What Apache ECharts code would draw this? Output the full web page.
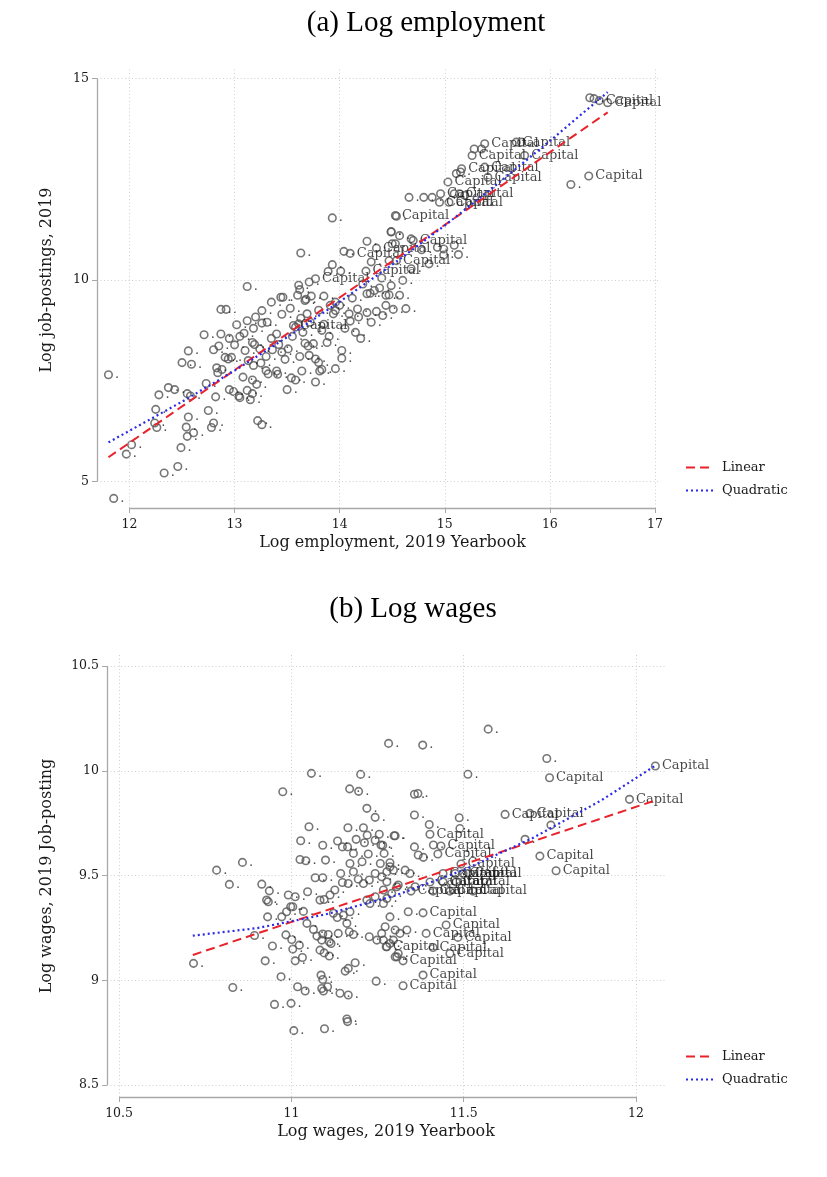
<!DOCTYPE html>
<html><head><meta charset="utf-8">
<script src="https://cdn.jsdelivr.net/npm/echarts@6/dist/echarts.min.js"></script>
<style>html,body{margin:0;padding:0;background:#fff}#c{width:827px;height:1177px}</style>
</head><body><div id="c"></div>
<script>
// ---------- DATA ----------
// [x, y, isCapital]
const empPoints = [
[11.80,7.65,0],[11.85,4.58,0],[12.02,5.91,0],[11.97,5.68,0],[12.33,5.21,0],[12.46,5.37,0],[12.49,5.84,0],[12.25,6.79,0],[12.24,6.45,0],[12.26,6.34,0],
[12.28,7.15,0],[12.37,7.33,0],[12.43,7.28,0],[12.56,6.60,0],[12.54,6.35,0],[12.55,6.12,0],[12.61,6.21,0],[12.50,7.95,0],[12.59,7.91,0],[12.56,8.24,0],
[12.55,7.18,0],[12.58,7.12,0],[12.75,6.76,0],[12.80,6.45,0],[12.78,6.34,0],[12.71,8.64,0],[12.87,8.66,0],[12.87,9.27,0],[12.92,9.27,0],[12.80,8.27,0],
[12.73,7.43,0],[12.82,7.10,0],[12.85,8.36,0],[12.91,8.08,0],[12.94,8.04,0],[12.97,8.08,0],[12.83,7.82,0],[12.84,7.70,0],[12.88,7.78,0],[13.00,8.39,0],
[13.02,8.89,0],[13.12,8.99,0],[13.20,9.08,0],[13.26,9.24,0],[12.95,7.28,0],[12.99,7.23,0],[13.04,7.12,0],[13.05,7.08,0],[13.12,7.26,0],[13.17,7.18,0],
[13.15,7.03,0],[13.08,7.59,0],[13.17,7.52,0],[13.21,7.41,0],[13.09,8.68,0],[13.18,8.80,0],[13.26,8.93,0],[13.17,8.45,0],[13.19,8.40,0],[13.24,8.29,0],
[13.13,8.00,0],[13.18,7.88,0],[13.25,7.94,0],[13.30,7.75,0],[13.22,6.51,0],[13.26,6.41,0],[13.32,7.67,0],[13.40,7.74,0],[13.41,7.66,0],[13.36,8.27,0],
[13.40,8.66,0],[13.44,9.57,0],[13.46,9.57,0],[13.31,8.95,0],[13.45,8.21,0],[13.48,8.03,0],[13.51,8.29,0],[13.54,7.57,0],[13.58,7.52,0],[13.50,7.28,0],
[13.53,9.30,0],[13.63,9.05,0],[13.69,9.16,0],[13.56,8.87,1],[13.58,8.83,0],[13.61,8.91,0],[13.64,7.74,0],[13.67,8.43,0],[13.70,8.36,0],[13.75,8.42,0],
[13.68,9.52,0],[13.73,9.60,0],[13.61,9.87,0],[13.60,9.62,0],[13.71,8.13,0],[13.77,8.04,0],[13.80,7.95,0],[13.77,7.47,0],[13.81,7.74,0],[13.83,7.78,0],
[13.83,8.75,0],[13.91,9.37,0],[13.96,9.45,0],[14.00,9.37,0],[13.94,9.16,0],[13.96,9.24,0],[14.02,8.25,0],[14.02,8.06,0],[13.96,7.80,0],[14.09,9.16,0],
[14.10,8.98,0],[14.17,9.28,0],[14.18,9.08,0],[14.26,9.19,0],[14.29,9.67,0],[14.35,9.22,0],[14.44,9.37,0],[14.51,9.27,0],[14.26,9.66,0],[14.33,9.74,0],
[14.38,9.80,0],[14.47,9.63,0],[14.49,9.86,0],
[13.35,8.55,0],[13.42,8.40,0],[13.55,8.60,0],[13.65,8.70,0],[13.72,8.95,0],[13.85,8.90,0],[13.90,8.60,0],[13.88,8.45,0],[14.05,8.80,0],[14.15,8.70,0],
[14.20,8.55,0],[14.30,8.95,0],[13.30,8.10,0],[13.62,8.10,0],[13.05,8.60,0],[13.10,8.25,0],[12.95,8.55,0],[13.85,9.60,0],[13.80,9.25,0],[13.45,9.15,0],[13.35,9.45,0],
[13.93,11.54,0],[13.63,10.67,0],[14.04,10.71,0],[14.10,10.66,1],[14.26,10.96,0],[14.54,11.58,0],[14.49,11.20,0],[14.35,10.79,1],[14.25,10.22,1],[13.93,10.38,0],
[13.89,10.21,0],[14.01,10.22,0],[13.77,10.03,1],[13.71,9.95,0],[13.62,9.76,0],[13.12,9.84,0],[13.67,9.49,0],[14.60,9.99,0],[14.57,9.62,0],[14.41,9.12,0],
[14.63,9.29,0],[14.44,9.62,0],[14.12,9.55,0],[14.22,9.90,0],[14.40,10.05,0],[14.30,10.45,0],
[14.50,10.90,0],[14.53,10.90,0],[14.68,11.02,0],[14.70,10.98,1],[14.93,10.81,0],[14.99,10.77,0],[15.09,10.86,0],[15.13,10.63,0],[14.99,10.62,0],[14.47,10.48,0],
[14.54,10.48,1],[14.68,10.28,0],[14.85,10.40,0],[14.78,10.75,0],[14.53,11.60,1],[14.49,11.19,0],[14.57,11.10,0],[14.66,12.05,0],[14.80,12.05,0],[14.88,12.05,0],
[14.96,12.14,1],[14.95,11.93,1],[15.09,12.14,0],[15.14,12.14,1],[15.19,12.10,0],[15.04,11.93,1],[15.03,12.43,1],[15.11,12.64,0],[15.16,12.76,1],[15.15,12.68,0],
[15.38,12.80,1],[15.41,12.55,1],[15.28,13.25,0],[15.26,13.09,1],[15.35,13.25,0],[15.38,13.38,1],[15.68,13.42,1],[15.73,13.42,0],[15.76,13.09,1],[16.20,12.37,0],
[16.37,12.58,1],[16.38,14.52,0],[16.42,14.50,0],[16.47,14.45,1],[16.55,14.40,1]
];
const empLinear = [[11.80,5.60],[16.55,14.16]];
const empQuadratic = [[11.80,5.97],[12.5,6.98],[13.0,7.75],[13.5,8.58],[14.0,9.46],[14.5,10.38],[15.0,11.35],[15.5,12.38],[16.0,13.45],[16.55,14.66]];

const wagePoints = [
[11.282,10.131,0],[11.058,9.988,0],[11.201,9.983,0],[10.975,9.900,0],[11.169,9.914,0],[11.195,9.902,0],[11.219,9.821,0],[11.243,9.778,0],[11.051,9.733,0],[11.164,9.728,0],
[11.209,9.728,0],[11.220,9.693,0],[11.255,9.697,0],[11.298,9.690,0],[11.027,9.666,0],[11.091,9.645,0],[11.134,9.665,0],[11.148,9.637,0],[11.163,9.637,0],[11.188,9.673,0],
[11.212,9.657,0],[11.243,9.669,0],[11.265,9.645,0],
[10.783,9.526,0],[10.858,9.563,0],[10.820,9.458,0],[10.914,9.459,0],[10.936,9.427,0],[10.928,9.383,0],[10.933,9.375,0],[10.991,9.407,0],[11.011,9.399,0],[10.998,9.351,0],[11.004,9.351,0],
[10.986,9.327,0],[10.972,9.303,0],[10.931,9.303,0],[10.893,9.214,0],[10.945,9.164,0],[10.924,9.093,0],[10.716,9.081,0],[10.830,8.966,0],[10.970,9.017,0],[10.951,8.885,0],
[10.999,8.890,0],[11.018,8.969,0],[11.040,8.949,0],[10.984,9.217,0],[11.001,9.195,0],[11.004,9.149,0],[11.011,9.093,0],[11.032,9.109,0],[11.045,9.272,0],[11.064,9.243,0],
[11.074,9.211,0],[11.088,9.192,0],[11.023,9.168,0],[11.035,9.329,0],[11.047,9.423,0],[11.069,9.490,0],[11.091,9.490,0],[11.025,9.577,0],[11.042,9.571,0],[11.099,9.574,0],
[11.083,9.383,0],[11.095,9.386,0],[11.112,9.407,0],[11.126,9.431,0],[11.143,9.510,0],[11.148,9.467,0],[11.165,9.462,0],[11.180,9.518,0],[11.194,9.483,0],[11.122,9.320,0],
[11.133,9.300,0],[11.151,9.311,0],[11.170,9.327,0],[11.161,9.272,0],[11.168,9.232,0],[11.180,9.219,0],[11.136,9.224,0],[11.091,9.221,0],[11.107,9.219,0],[11.110,9.184,0],
[11.115,9.176,0],[11.083,9.144,0],[11.095,9.131,0],[11.110,9.116,0],[11.086,9.025,0],[11.091,9.004,0],[11.105,8.969,0],[11.088,8.961,0],[11.141,8.938,0],[11.165,8.930,0],
[11.156,9.044,0],[11.165,9.057,0],[11.185,9.084,0],[11.161,8.815,0],[11.226,9.208,0],[11.248,9.192,0],[11.262,9.224,0],[11.277,9.160,0],[11.296,9.192,0],[11.306,9.112,0],
[11.246,8.996,0],[11.219,9.383,0],[11.228,9.367,0],[11.243,9.399,0],[11.267,9.431,0],[11.277,9.391,0],[11.291,9.415,0],[11.306,9.447,0],[11.209,9.462,0],[11.226,9.479,0],
[11.243,9.510,0],[11.262,9.494,0],[11.277,9.518,0],[11.286,9.561,0],[11.296,9.526,0],[11.269,9.606,0],[11.260,9.646,0],[11.223,9.603,0],[11.205,9.566,0],[11.170,9.558,0],
[11.180,9.606,0],[11.007,8.760,0],[11.096,8.769,0],[11.163,8.803,0],[11.093,8.949,0],
[11.571,10.199,0],[11.381,10.123,0],[11.741,10.059,0],[11.512,9.984,0],[11.749,9.967,1],[12.056,10.023,1],[11.981,9.864,1],[11.620,9.792,1],[11.692,9.797,1],[11.753,9.741,0],
[11.678,9.673,0],[11.721,9.593,1],[11.768,9.523,1],[11.357,9.888,0],[11.367,9.892,0],[11.357,9.789,0],[11.487,9.776,0],[11.400,9.744,0],[11.402,9.697,1],[11.489,9.725,0],
[11.301,9.690,0],[11.357,9.637,0],[11.368,9.598,0],[11.383,9.587,0],[11.286,9.542,0],[11.330,9.526,0],[11.344,9.510,0],[11.277,9.470,0],[11.310,9.455,0],[11.359,9.447,0],
[11.434,9.641,1],[11.425,9.603,1],[11.492,9.555,1],[11.440,9.510,1],[11.475,9.510,1],[11.498,9.510,1],[11.512,9.510,1],[11.402,9.469,1],[11.440,9.469,1],[11.478,9.469,1],
[11.347,9.426,1],[11.411,9.426,1],[11.460,9.426,1],[11.527,9.426,1],[11.382,9.322,1],[11.449,9.264,1],[11.391,9.224,1],[11.483,9.205,1],[11.275,9.160,1],[11.411,9.157,1],
[11.460,9.128,1],[11.324,9.093,1],[11.382,9.025,1],[11.324,8.974,1],
[11.339,9.327,0],[11.267,9.367,0],[11.286,9.303,0],[11.272,9.256,0],[11.301,9.240,0],[11.315,9.224,0],[11.267,9.192,0],[11.286,9.176,0],[11.335,9.240,0],[11.310,9.128,0],
[11.301,9.112,0],[11.412,9.646,0],[11.258,9.558,0]
];
const wageLinear = [[10.714,9.121],[12.056,9.859]];
const wageQuadratic = [[10.714,9.213],[10.9,9.249],[11.1,9.315],[11.3,9.404],[11.5,9.527],[11.7,9.679],[11.9,9.860],[12.056,10.025]];

const empXTicks = [12,13,14,15,16,17];
const empYTicks = [5,10,15];
const wageXTicks = [10.5,11,11.5,12];
const wageYTicks = [8.5,9,9.5,10,10.5];
const legendNames = ['Linear','Quadratic'];
const titles = ['(a) Log employment','(b) Log wages'];
const axisNames = {
  empX:'Log employment, 2019 Yearbook', empY:'Log job-postings, 2019',
  wageX:'Log wages, 2019 Yearbook', wageY:'Log wages, 2019 Job-posting'
};

// ---------- STYLE / LAYOUT ----------
const SERIF = 'DejaVu Serif';
const TXT = '#1a1a1a';
const AX = '#a8a8a8';
const RED = '#e8232b';
const BLUE = '#2a2ae8';
const ranges = {
  emp: {x:[11.691,17.048], y:[4.342,15.26]},
  wage:{x:[10.465,12.084], y:[8.443,10.553]}
};

function xAxisCfg(idx, r, ticks, name, pad){
  return {type:'value', gridIndex:idx, min:r[0], max:r[1],
    axisLine:{show:false}, splitLine:{show:false},
    axisTick:{show:true, customValues:ticks, length:5, lineStyle:{color:AX, width:1}},
    axisLabel:{customValues:ticks, margin:10, fontFamily:SERIF, fontSize:12.5, color:TXT},
    name:name, nameLocation:'middle', nameGap:27,
    nameTextStyle:{fontFamily:SERIF, fontSize:16, color:TXT, padding:pad}};
}
function yAxisCfg(idx, r, ticks, name, gap, pad){
  return {type:'value', gridIndex:idx, min:r[0], max:r[1],
    axisLine:{show:false}, splitLine:{show:false},
    axisTick:{show:true, customValues:ticks, length:5, lineStyle:{color:AX, width:1}},
    axisLabel:{customValues:ticks, margin:8, fontFamily:SERIF, fontSize:12.5, color:TXT},
    name:name, nameLocation:'middle', nameGap:gap,
    nameTextStyle:{fontFamily:SERIF, fontSize:16, color:TXT, padding:pad}};
}
function gridSeries(idx, xt, yt){
  return {type:'scatter', xAxisIndex:idx, yAxisIndex:idx, data:[], silent:true, z:1,
    markLine:{silent:true, symbol:['none','none'], label:{show:false}, animation:false,
      lineStyle:{color:'#cfcfcf', width:1, type:[1,2.5]},
      emphasis:{disabled:true},
      data:[...yt.map(v=>({yAxis:v})), ...xt.map(v=>({xAxis:v}))]}};
}
function axisLineSeries(idx, r, xt, yt){
  return {type:'scatter', xAxisIndex:idx, yAxisIndex:idx, data:[], silent:true, z:2,
    markLine:{silent:true, symbol:['none','none'], label:{show:false}, animation:false,
      lineStyle:{color:AX, width:1.3, type:'solid'},
      emphasis:{disabled:true},
      data:[
        [{coord:[r.x[0], yt[0]]},{coord:[r.x[0], yt[yt.length-1]]}],
        [{coord:[xt[0], r.y[0]]},{coord:[xt[xt.length-1], r.y[0]]}]
      ]}};
}
function pointSeries(idx, pts){
  return {type:'scatter', xAxisIndex:idx, yAxisIndex:idx, data:pts, z:3,
    symbol:'circle', symbolSize:7.5,
    itemStyle:{color:'rgba(0,0,0,0)', borderColor:'#555', borderWidth:1.6},
    label:{show:true, position:'right', distance:2,
      formatter:p=>p.data[2] ? 'Capital' : '.',
      fontFamily:SERIF, fontSize:13, color:TXT},
    emphasis:{disabled:true}};
}
function fitSeries(idx, name, pts, color, dash, w){
  return {type:'line', name:name, xAxisIndex:idx, yAxisIndex:idx, data:pts, z:5,
    symbol:'none', showSymbol:false, smooth:false,
    lineStyle:{color:color, width:w, type:dash}, itemStyle:{color:color},
    emphasis:{disabled:true}};
}
function legendCfg(top){
  return {data:legendNames, orient:'vertical', left:680, top:top, itemWidth:28, itemHeight:12, itemGap:10,
    selectedMode:false, itemStyle:{opacity:0},
    textStyle:{fontFamily:SERIF, fontSize:13, color:TXT, padding:[0,0,0,3]}};
}

const chart = echarts.init(document.getElementById('c'));
chart.setOption({
  animation:false,
  backgroundColor:'#fff',
  title:[
    {text:titles[0], left:421, top:4, textAlign:'center',
     textStyle:{fontFamily:'Liberation Serif', fontSize:29, fontWeight:'normal', color:'#000'}},
    {text:titles[1], left:408, top:590, textAlign:'center',
     textStyle:{fontFamily:'Liberation Serif', fontSize:29, fontWeight:'normal', color:'#000'}}
  ],
  legend:[legendCfg(456), legendCfg(1045)],
  grid:[
    {left:97, top:68, width:563, height:440},
    {left:107, top:655, width:558, height:442}
  ],
  xAxis:[
    xAxisCfg(0, ranges.emp.x, empXTicks, axisNames.empX, [0,0,0,28]),
    xAxisCfg(1, ranges.wage.x, wageXTicks, axisNames.wageX, [0,0,0,0])
  ],
  yAxis:[
    yAxisCfg(0, ranges.emp.y, empYTicks, axisNames.empY, 42, [0,0,0,16]),
    yAxisCfg(1, ranges.wage.y, wageYTicks, axisNames.wageY, 52, [0,0,0,0])
  ],
  series:[
    gridSeries(0, empXTicks, empYTicks),
    axisLineSeries(0, ranges.emp, empXTicks, empYTicks),
    pointSeries(0, empPoints),
    fitSeries(0, legendNames[0], empLinear, RED, [9,5], 2),
    fitSeries(0, legendNames[1], empQuadratic, BLUE, [2,3], 2.2),
    gridSeries(1, wageXTicks, wageYTicks),
    axisLineSeries(1, ranges.wage, wageXTicks, wageYTicks),
    pointSeries(1, wagePoints),
    fitSeries(1, legendNames[0], wageLinear, RED, [9,5], 2),
    fitSeries(1, legendNames[1], wageQuadratic, BLUE, [2,3], 2.2)
  ]
});
</script>
</body></html>
